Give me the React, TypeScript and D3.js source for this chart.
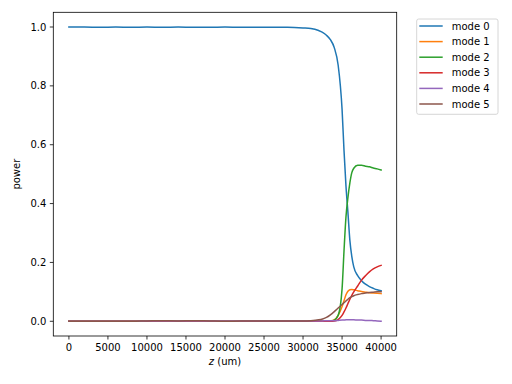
import React from "react";
import * as d3 from "d3";

const zValues = [
  0, 2000, 4000, 6000, 8000, 10000, 12000, 14000, 16000, 18000, 20000, 22000, 24000, 26000, 28000, 30000,
  31000, 32000, 32500, 33000, 33500, 34000, 34500, 35000, 35250, 35500, 35750, 36000, 36250, 36500,
  37000, 37500, 38000, 38500, 39000, 39500, 40000,
];

const mode0 = [
  1.0, 1.0, 0.999, 1.0, 0.999, 1.0, 0.999, 1.0, 0.999, 0.999, 1.0, 0.999, 0.999, 0.999, 0.999, 0.997,
  0.995, 0.988, 0.982, 0.972, 0.957, 0.93, 0.87, 0.72, 0.58, 0.46, 0.37, 0.275, 0.22, 0.185,
  0.155, 0.138, 0.126, 0.118, 0.112, 0.107, 0.104,
];
const mode1 = [
  0, 0, 0, 0, 0, 0, 0.001, 0, 0.001, 0, 0, 0, 0, 0, 0, 0,
  0, 0, 0, 0, 0.001, 0.005, 0.02, 0.05, 0.07, 0.09, 0.102, 0.107, 0.108, 0.107,
  0.104, 0.101, 0.099, 0.097, 0.096, 0.095, 0.094,
];
const mode2 = [
  0, 0, 0, 0, 0, 0, 0, 0, 0, 0, 0, 0, 0, 0, 0, 0,
  0, 0, 0, 0, 0.001, 0.004, 0.02, 0.11, 0.24, 0.355, 0.42, 0.47, 0.505, 0.52,
  0.53, 0.53, 0.527, 0.525, 0.521, 0.518, 0.514,
];
const mode3 = [
  0, 0, 0, 0, 0, 0, 0, 0, 0, 0, 0, 0, 0, 0, 0, 0,
  0, 0, 0, 0, 0, 0.001, 0.006, 0.02, 0.032, 0.045, 0.06, 0.075, 0.088, 0.1,
  0.12, 0.14, 0.155, 0.168, 0.178, 0.185, 0.19,
];
const mode4 = [
  0, 0, 0, 0, 0, 0.001, 0.001, 0.001, 0.001, 0.001, 0.001, 0.001, 0.001, 0.001, 0.001, 0.001,
  0.001, 0.001, 0.001, 0.002, 0.002, 0.002, 0.003, 0.004, 0.004, 0.005, 0.005, 0.005, 0.005, 0.005,
  0.004, 0.004, 0.003, 0.003, 0.002, 0.001, 0.0,
];
const mode5 = [
  0, 0, 0, 0, 0, 0.001, 0.002, 0.001, 0.002, 0.001, 0, 0.001, 0.001, 0.001, 0.001, 0.001,
  0.002, 0.005, 0.008, 0.013, 0.022, 0.033, 0.045, 0.057, 0.063, 0.069, 0.075, 0.08, 0.084, 0.087,
  0.091, 0.094, 0.096, 0.098, 0.099, 0.1, 0.1,
];

const seriesNames = ["mode 0", "mode 1", "mode 2", "mode 3", "mode 4", "mode 5"];
const seriesValues = [mode0, mode1, mode2, mode3, mode4, mode5];
const colors = ["#1f77b4", "#ff7f0e", "#2ca02c", "#d62728", "#9467bd", "#8c564b"];
const xTicks = [0, 5000, 10000, 15000, 20000, 25000, 30000, 35000, 40000];
const yTicks = [0, 0.2, 0.4, 0.6, 0.8, 1.0];

const W = 512;
const H = 384;
const left = 53.3;
const right = 396.7;
const top = 12.3;
const bottom = 336;
const font = "DejaVu Sans, sans-serif";

export default function App() {
  const x = d3.scaleLinear().domain([-2000, 42000]).range([left, right]);
  const y = d3.scaleLinear().domain([-0.05, 1.05]).range([bottom, top]);
  const line = d3
    .line<[number, number]>()
    .x((d) => x(d[0]))
    .y((d) => y(d[1]))
    .curve(d3.curveMonotoneX);

  return (
    <svg
      width={W}
      height={H}
      style={{ position: "absolute", left: 0, top: 0, background: "#fff" }}
      fontFamily={font}
    >
      <rect x={0} y={0} width={W} height={H} fill="#fff" />
      <defs>
        <clipPath id="plotclip">
          <rect x={left} y={top} width={right - left} height={bottom - top} />
        </clipPath>
      </defs>
      <g clipPath="url(#plotclip)">
        {seriesValues.map((vals, i) => (
          <path
            key={i}
            d={line(zValues.map((z, j) => [z, vals[j]] as [number, number])) || ""}
            fill="none"
            stroke={colors[i]}
            strokeWidth={1.5}
            strokeLinejoin="round"
            strokeLinecap="square"
          />
        ))}
      </g>
      {/* spines */}
      <rect
        x={left}
        y={top}
        width={right - left}
        height={bottom - top}
        fill="none"
        stroke="#000"
        strokeWidth={0.8}
      />
      {/* x ticks */}
      {xTicks.map((t) => (
        <g key={"x" + t}>
          <line x1={x(t)} x2={x(t)} y1={bottom} y2={bottom + 3.5} stroke="#000" strokeWidth={0.8} />
          <text x={x(t)} y={bottom + 14.6} fontSize={10} textAnchor="middle" fill="#000">
            {t}
          </text>
        </g>
      ))}
      {/* y ticks */}
      {yTicks.map((t) => (
        <g key={"y" + t}>
          <line x1={left - 3.5} x2={left} y1={y(t)} y2={y(t)} stroke="#000" strokeWidth={0.8} />
          <text x={left - 7} y={y(t)} dy="0.36em" fontSize={10} textAnchor="end" fill="#000">
            {d3.format(".1f")(t)}
          </text>
        </g>
      ))}
      {/* axis labels */}
      <text x={(left + right) / 2} y={365} fontSize={10} textAnchor="middle" fill="#000">
        <tspan fontStyle="italic">z</tspan> (um)
      </text>
      <text
        transform={`translate(19.8, ${(top + bottom) / 2}) rotate(-90)`}
        fontSize={10}
        textAnchor="middle"
        fill="#000"
      >
        power
      </text>
      {/* legend */}
      <rect
        x={416.7}
        y={19}
        width={81.3}
        height={95.3}
        rx={2}
        ry={2}
        fill="#fff"
        fillOpacity={0.8}
        stroke="#ccc"
        strokeWidth={0.8}
      />
      {seriesNames.map((name, i) => {
        const ly = 26 + i * 15.6;
        return (
          <g key={name}>
            <line x1={419.3} x2={442.7} y1={ly} y2={ly} stroke={colors[i]} strokeWidth={1.5} />
            <text x={451.7} y={ly} dy="0.36em" fontSize={10} fill="#000">
              {name}
            </text>
          </g>
        );
      })}
    </svg>
  );
}
